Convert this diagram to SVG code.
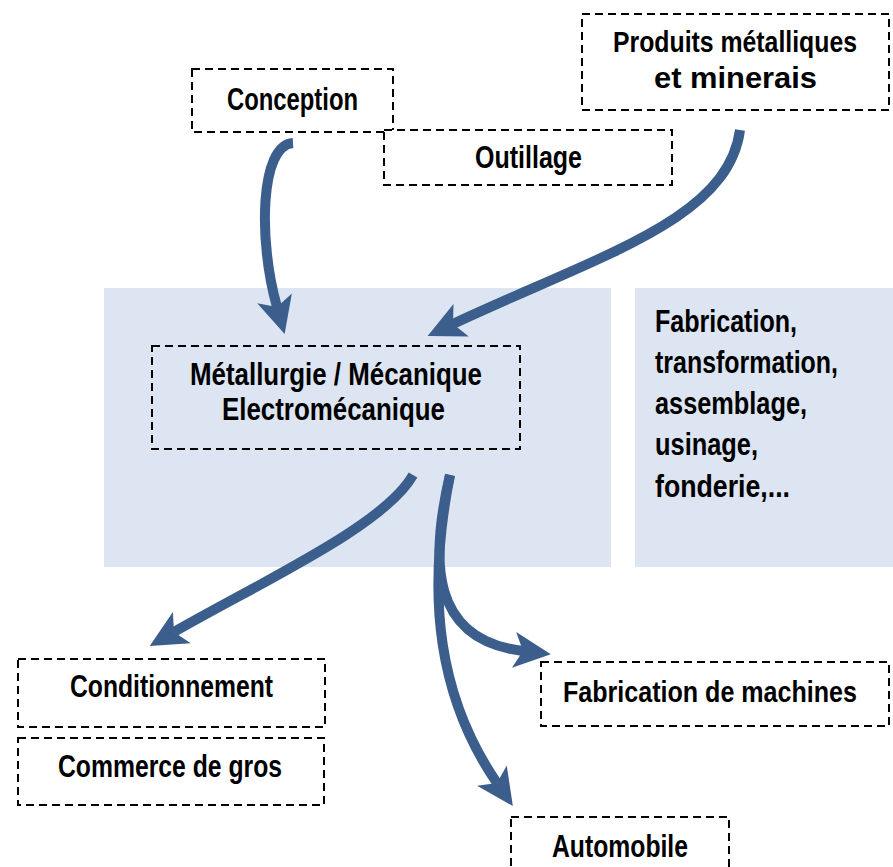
<svg xmlns="http://www.w3.org/2000/svg" width="893" height="867" viewBox="0 0 893 867">
<style>
.box{fill:#fff;stroke:#000;stroke-width:2;stroke-dasharray:8 5}
.boxb{fill:none;stroke:#000;stroke-width:2;stroke-dasharray:8 5}
.bg{fill:#dce5f1}
.t{font-family:"Liberation Sans",Arial,sans-serif;font-weight:bold;font-size:31px;fill:#000}
.s{font-size:29px}
.c{text-anchor:middle}
.arr{fill:none;stroke:#3b5e8c;stroke-width:10;marker-end:url(#ah)}
</style>
<defs>
<marker id="ah" markerUnits="userSpaceOnUse" markerWidth="40" markerHeight="40" refX="9" refY="18" orient="auto" overflow="visible">
<path d="M0,0 L37,18 L0,36 L9,18 z" fill="#3b5e8c"/>
</marker>
</defs>
<rect class="bg" x="104" y="288" width="507" height="279"/>
<rect class="bg" x="635" y="288" width="258" height="279"/>
<g id="conception"><rect class="boxb" x="192" y="69" width="201" height="63"/><text class="t c" x="292.5" y="110" textLength="131" lengthAdjust="spacingAndGlyphs">Conception</text></g>
<g id="outillage"><rect class="box" x="384" y="130" width="288" height="55"/><text class="t c" x="528.5" y="168" textLength="107" lengthAdjust="spacingAndGlyphs">Outillage</text></g>
<g id="produits"><rect class="box" x="582" y="14" width="307" height="96"/><text class="t c s" x="735" y="52" textLength="244" lengthAdjust="spacingAndGlyphs">Produits métalliques</text><text class="t c s" x="735.5" y="88" textLength="163" lengthAdjust="spacingAndGlyphs">et minerais</text></g>
<g id="metallurgie"><rect class="boxb" x="152" y="346" width="368" height="103"/><text class="t c" x="336" y="385" textLength="292" lengthAdjust="spacingAndGlyphs">Métallurgie / Mécanique</text><text class="t c" x="333.5" y="420" textLength="223" lengthAdjust="spacingAndGlyphs">Electromécanique</text></g>
<g id="activites"><text class="t" x="655" y="332" textLength="142" lengthAdjust="spacingAndGlyphs">Fabrication,</text><text class="t" x="655" y="373" textLength="183" lengthAdjust="spacingAndGlyphs">transformation,</text><text class="t" x="655" y="414" textLength="152" lengthAdjust="spacingAndGlyphs">assemblage,</text><text class="t" x="655" y="455" textLength="103" lengthAdjust="spacingAndGlyphs">usinage,</text><text class="t" x="655" y="497" textLength="135" lengthAdjust="spacingAndGlyphs">fonderie,...</text></g>
<g id="conditionnement"><rect class="box" x="18" y="659" width="307" height="68"/><text class="t c" x="171.5" y="697" textLength="203" lengthAdjust="spacingAndGlyphs">Conditionnement</text></g>
<g id="commerce"><rect class="box" x="18" y="738" width="306" height="67"/><text class="t c" x="170" y="777" textLength="224" lengthAdjust="spacingAndGlyphs">Commerce de gros</text></g>
<g id="machines"><rect class="box" x="541" y="662" width="348" height="64"/><text class="t c s" x="710" y="702" textLength="294" lengthAdjust="spacingAndGlyphs">Fabrication de machines</text></g>
<g id="automobile"><rect class="box" x="511" y="817" width="218" height="60"/><text class="t c" x="620" y="857" textLength="136" lengthAdjust="spacingAndGlyphs">Automobile</text></g>
<g id="connectors">
<path class="arr" d="M293,143 C260,145 258,240 277,307"/>
<path class="arr" d="M740,130 C728,220 600,255 453,324"/>
<path class="arr" d="M413,475 C385,525 265,580 174,632"/>
<path class="arr" d="M450,475 C430,560 430,640 523,651"/>
<path class="arr" d="M450,475 C425,600 440,700 497,783"/>
</g>
</svg>
